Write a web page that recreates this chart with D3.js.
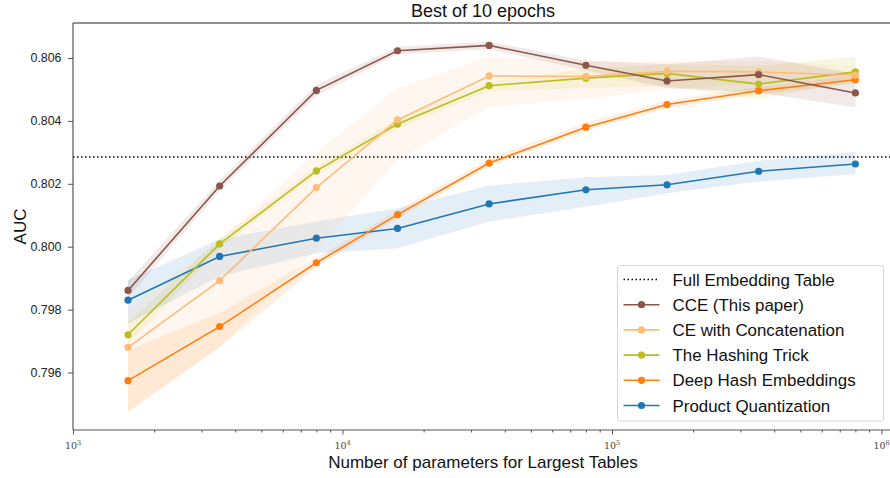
<!DOCTYPE html>
<html><head><meta charset="utf-8">
<script src="https://cdn.jsdelivr.net/npm/d3@7"></script>
<style>body{margin:0;background:#fff}svg{display:block}</style>
</head><body>
<svg id="c" width="890" height="478"></svg>
<script>
const params = [1600, 3500, 8000, 16000, 35000, 80000, 160000, 350000, 800000];
const fullTable = 0.80285;
const seriesNames = ["CCE (This paper)", "CE with Concatenation", "The Hashing Trick", "Deep Hash Embeddings", "Product Quantization"];
const seriesColors = ["#8c564b", "#ffbb78", "#bcbd22", "#ff7f0e", "#1f77b4"];
const cceMean = [0.79861, 0.80193, 0.80497, 0.80623, 0.80640, 0.80577, 0.80527, 0.80547, 0.80489];
const cceLow  = [0.79838, 0.80178, 0.80480, 0.80612, 0.80628, 0.80560, 0.80505, 0.80490, 0.80443];
const cceHigh = [0.79890, 0.80210, 0.80515, 0.80636, 0.80652, 0.80592, 0.80580, 0.80605, 0.80550];
const ceMean  = [0.79680, 0.79892, 0.80188, 0.80403, 0.80543, 0.80541, 0.80558, 0.80556, 0.80545];
const ceLow   = [0.79475, 0.79680, 0.79990, 0.80276, 0.80445, 0.80470, 0.80500, 0.80520, 0.80530];
const ceHigh  = [0.79800, 0.80020, 0.80300, 0.80504, 0.80604, 0.80588, 0.80590, 0.80590, 0.80575];
const htMean  = [0.79720, 0.80009, 0.80241, 0.80390, 0.80512, 0.80536, 0.80551, 0.80517, 0.80556];
const htLow   = [0.79690, 0.79995, 0.80228, 0.80375, 0.80495, 0.80505, 0.80510, 0.80470, 0.80525];
const htHigh  = [0.79760, 0.80025, 0.80255, 0.80405, 0.80525, 0.80565, 0.80580, 0.80575, 0.80604];
const dheMean = [0.79574, 0.79746, 0.79949, 0.80102, 0.80266, 0.80380, 0.80452, 0.80496, 0.80531];
const dheLow  = [0.79475, 0.79680, 0.79935, 0.80090, 0.80255, 0.80368, 0.80440, 0.80484, 0.80519];
const dheHigh = [0.79670, 0.79790, 0.79965, 0.80115, 0.80280, 0.80395, 0.80465, 0.80508, 0.80543];
const pqMean  = [0.79830, 0.79969, 0.80027, 0.80058, 0.80136, 0.80181, 0.80197, 0.80240, 0.80263];
const pqLow   = [0.79757, 0.79905, 0.79979, 0.79995, 0.80080, 0.80127, 0.80170, 0.80207, 0.80231];
const pqHigh  = [0.79894, 0.80024, 0.80080, 0.80122, 0.80194, 0.80221, 0.80228, 0.80273, 0.80302];
const yTicks = [0.796, 0.798, 0.800, 0.802, 0.804, 0.806];
const xTicks = [1e3, 1e4, 1e5, 1e6];
const xTickExp = ["3", "4", "5", "6"];
const title = "Best of 10 epochs";
const xLabel = "Number of parameters for Largest Tables";
const yLabel = "AUC";

const series = [
  {mean: cceMean, low: cceLow, high: cceHigh},
  {mean: ceMean, low: ceLow, high: ceHigh},
  {mean: htMean, low: htLow, high: htHigh},
  {mean: dheMean, low: dheLow, high: dheHigh},
  {mean: pqMean, low: pqLow, high: pqHigh}
].map((s, i) => ({...s, name: seriesNames[i], color: seriesColors[i]}));

const svg = d3.select("#c");
const L = 73, R = 893, T = 23, B = 430;
const x = d3.scaleLog().domain([1e3, Math.pow(10, 6.0427)]).range([L, R]);
const y = d3.scaleLinear().domain([0.794172, 0.807113]).range([B, T]);
const font = "'Liberation Sans', Arial, Helvetica, sans-serif";

const plot = svg.append("g");
const drawOrder = [4, 3, 2, 1, 0];
drawOrder.forEach(i => {
  const s = series[i];
  const area = d3.area().x((d, j) => x(params[j])).y0((d, j) => y(s.low[j])).y1((d, j) => y(s.high[j]));
  plot.append("path").datum(s.mean).attr("d", area).attr("fill", s.color).attr("fill-opacity", 0.12).attr("stroke", "none");
});
plot.append("line").attr("x1", L).attr("x2", R).attr("y1", y(fullTable)).attr("y2", y(fullTable))
  .attr("stroke", "#000").attr("stroke-width", 1.5).attr("stroke-dasharray", "1.5,2.5");
drawOrder.forEach(i => {
  const s = series[i];
  const line = d3.line().x((d, j) => x(params[j])).y(d => y(d));
  plot.append("path").datum(s.mean).attr("d", line).attr("fill", "none").attr("stroke", s.color).attr("stroke-width", 1.6);
  plot.selectAll(null).data(s.mean).enter().append("circle")
    .attr("cx", (d, j) => x(params[j])).attr("cy", d => y(d)).attr("r", 3.6).attr("fill", s.color);
});

svg.append("line").attr("x1", L).attr("x2", L).attr("y1", T).attr("y2", B).attr("stroke", "#555").attr("stroke-width", 1.2);
svg.append("line").attr("x1", L).attr("x2", R).attr("y1", B).attr("y2", B).attr("stroke", "#555").attr("stroke-width", 1.2);
svg.append("line").attr("x1", L).attr("x2", R).attr("y1", T).attr("y2", T).attr("stroke", "#222").attr("stroke-width", 1);

const yAxis = d3.axisLeft(y).tickValues(yTicks).tickFormat(d3.format(".3f")).tickSize(5).tickPadding(6.5);
const ya = svg.append("g").attr("transform", `translate(${L},0)`).call(yAxis);
ya.select(".domain").remove();
ya.selectAll("line").attr("stroke", "#555");
ya.selectAll("text").attr("font-family", font).attr("font-size", 12.4).attr("fill", "#222");

const minor = [];
for (let e = 3; e < 7; e++) for (let k = 2; k <= 9; k++) { const v = k * Math.pow(10, e); if (x(v) <= R) minor.push(v); }
const xa = svg.append("g").attr("transform", `translate(0,${B})`);
xa.call(d3.axisBottom(x).tickValues(minor).tickSize(2.5).tickFormat(""));
xa.select(".domain").remove();
xa.selectAll("line").attr("stroke", "#555");
const xa2 = svg.append("g").attr("transform", `translate(0,${B})`);
xa2.call(d3.axisBottom(x).tickValues(xTicks).tickSize(4.5).tickFormat(""));
xa2.select(".domain").remove();
xa2.selectAll("line").attr("stroke", "#555");
xTicks.forEach((v, i) => {
  const t = svg.append("text").attr("x", x(v)).attr("y", B + 19).attr("text-anchor", "middle")
    .attr("font-family", "'DejaVu Serif', 'Liberation Serif', serif").attr("font-size", 9.5).attr("fill", "#444");
  t.append("tspan").text("10");
  t.append("tspan").attr("dy", -4).attr("font-size", 6.5).text(xTickExp[i]);
});

svg.append("text").attr("x", (L + R) / 2).attr("y", 17).attr("text-anchor", "middle")
  .attr("font-family", font).attr("font-size", 18).attr("fill", "#111").text(title);
svg.append("text").attr("x", (L + R) / 2).attr("y", 468).attr("text-anchor", "middle")
  .attr("font-family", font).attr("font-size", 17).attr("fill", "#111").text(xLabel);
svg.append("text").attr("transform", `translate(26,${(T + B) / 2}) rotate(-90)`).attr("text-anchor", "middle")
  .attr("font-family", font).attr("font-size", 17).attr("fill", "#111").text(yLabel);

const lg = svg.append("g");
lg.append("rect").attr("x", 617.5).attr("y", 265.5).attr("width", 266).attr("height", 155.5).attr("rx", 3)
  .attr("fill", "#fff").attr("fill-opacity", 0.85).attr("stroke", "#d5d5d5").attr("stroke-width", 1);
const rowY = i => 279.5 + i * 25.2;
lg.append("line").attr("x1", 623.5).attr("x2", 659.5).attr("y1", rowY(0)).attr("y2", rowY(0))
  .attr("stroke", "#000").attr("stroke-width", 1.5).attr("stroke-dasharray", "1.5,2.5");
lg.append("text").attr("x", 672.5).attr("y", rowY(0) + 6).attr("font-family", font).attr("font-size", 16.9).attr("fill", "#111").text("Full Embedding Table");
series.forEach((s, i) => {
  const yy = rowY(i + 1);
  lg.append("line").attr("x1", 623.5).attr("x2", 659.5).attr("y1", yy).attr("y2", yy).attr("stroke", s.color).attr("stroke-width", 1.6);
  lg.append("circle").attr("cx", 641.5).attr("cy", yy).attr("r", 3.6).attr("fill", s.color);
  lg.append("text").attr("x", 672.5).attr("y", yy + 6).attr("font-family", font).attr("font-size", 16.9).attr("fill", "#111").text(s.name);
});
</script>
</body></html>
